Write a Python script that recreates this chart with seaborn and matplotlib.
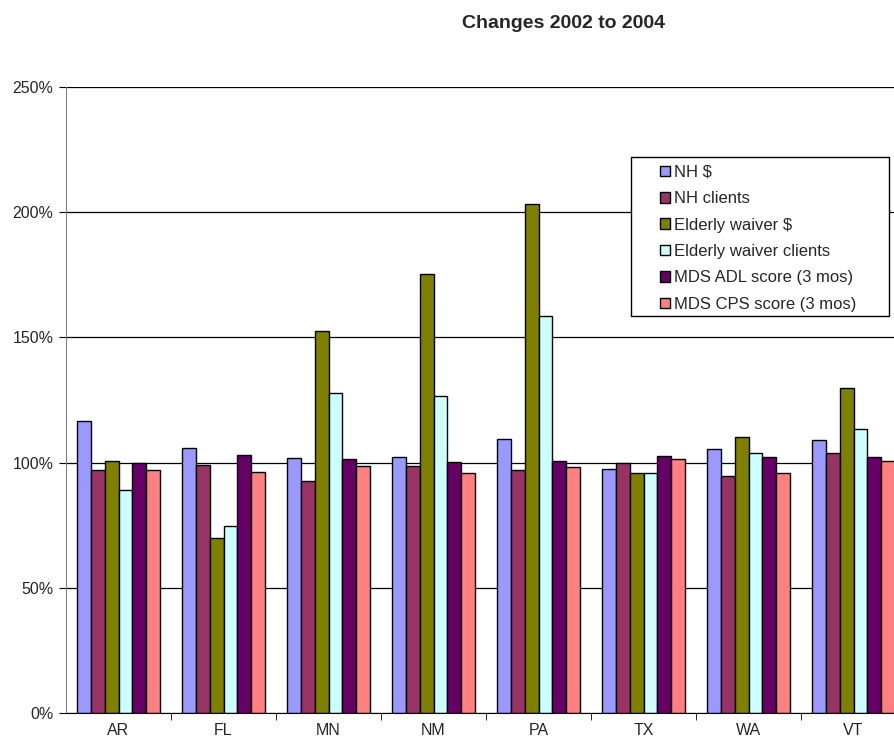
import numpy as np
import pandas as pd
import matplotlib
matplotlib.use("Agg")
import matplotlib.pyplot as plt
import seaborn as sns
from matplotlib.ticker import FuncFormatter, FixedLocator
from matplotlib.patches import Patch, Rectangle

states = ["AR", "FL", "MN", "NM", "PA", "TX", "WA", "VT"]
series_names = ["NH $", "NH clients", "Elderly waiver $", "Elderly waiver clients",
                "MDS ADL score (3 mos)", "MDS CPS score (3 mos)"]

nh_dollars = [116.5, 106.0, 102.0, 102.2, 109.5, 97.5, 105.3, 108.9]
nh_clients = [97.0, 99.0, 92.6, 98.5, 97.1, 99.9, 94.7, 103.7]
waiver_dollars = [100.5, 69.9, 152.6, 175.5, 203.4, 96.0, 110.4, 129.9]
waiver_clients = [88.9, 74.6, 127.8, 126.7, 158.4, 95.9, 103.9, 113.5]
mds_adl = [100.0, 102.9, 101.5, 100.3, 100.6, 102.7, 102.4, 102.3]
mds_cps = [97.0, 96.4, 98.8, 95.7, 98.3, 101.6, 95.9, 100.8]

colors = ["#9999FF", "#993366", "#808000", "#CCFFFF", "#660066", "#FF8080"]

values = [nh_dollars, nh_clients, waiver_dollars, waiver_clients, mds_adl, mds_cps]
df = pd.DataFrame(
    [(st, name, v) for name, vals in zip(series_names, values) for st, v in zip(states, vals)],
    columns=["State", "Series", "Change"],
)

sns.set_style("white")
plt.rcParams["font.family"] = ["Liberation Sans", "DejaVu Sans"]

fig = plt.figure(figsize=(8.94, 7.42), dpi=100)
W, H = 894, 742
left, right, top, bottom = 66, 906, 87, 713
ax = fig.add_axes([left / W, 1 - bottom / H, (right - left) / W, (bottom - top) / H])

sns.barplot(data=df, x="State", y="Change", hue="Series", hue_order=series_names,
            palette=colors, width=0.79, edgecolor="black", linewidth=1.0,
            saturation=1, legend=False, ax=ax)

ax.set_ylim(0, 250)
ax.set_xlim(-0.5, len(states) - 0.5)
ax.set_yticks(np.arange(0, 251, 50))
ax.yaxis.set_major_formatter(FuncFormatter(lambda v, p: f"{int(v)}%"))
ax.yaxis.grid(True, color="black", linewidth=0.9)
ax.set_axisbelow(True)
ax.set_xlabel("")
ax.set_ylabel("")

for side in ["top", "right"]:
    ax.spines[side].set_visible(False)
ax.spines["left"].set_color("#808080")
ax.spines["bottom"].set_color("black")

ax.tick_params(axis="y", left=True, length=5, color="black", labelsize=11.5, pad=4)
ax.tick_params(axis="x", bottom=False, labelsize=11.5, pad=4)
ax.xaxis.set_minor_locator(FixedLocator(np.arange(0.5, len(states) - 0.5, 1)))
ax.tick_params(axis="x", which="minor", bottom=True, length=5, color="black", direction="out")

fig.text(563 / W, 1 - 24 / H, "Changes 2002 to 2004", ha="center", va="center",
         fontsize=14, fontweight="bold")

# legend box
box = Rectangle((631 / W, 1 - 316 / H), (889 - 631) / W, (316 - 157) / H,
                transform=fig.transFigure, facecolor="white", edgecolor="black",
                linewidth=1.0, zorder=4)
fig.patches.append(box)

handles = [Patch(facecolor=c, edgecolor="black", linewidth=1.0) for c in colors]
leg = fig.legend(handles, series_names, loc="upper left",
                 bbox_to_anchor=(660 / W, 1 - 165 / H), bbox_transform=fig.transFigure,
                 fontsize=12, frameon=False,
                 handlelength=0.6, handleheight=0.6, handletextpad=0.25,
                 labelspacing=0.68, borderpad=0, borderaxespad=0)
leg.set_zorder(5)

fig.savefig("out.png", dpi=100)
